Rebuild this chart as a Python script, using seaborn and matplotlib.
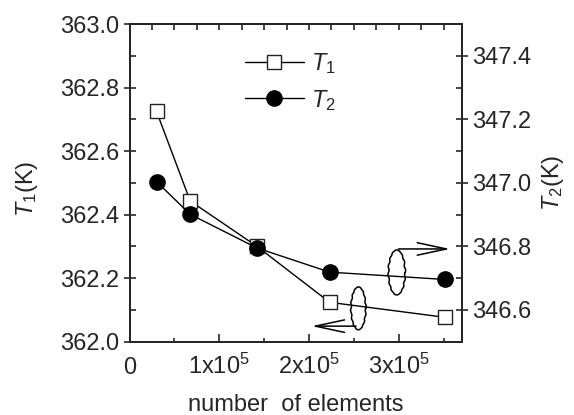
import numpy as np
import matplotlib
matplotlib.use('Agg')
import matplotlib.pyplot as plt
import seaborn as sns
from matplotlib.ticker import FuncFormatter, MultipleLocator

# ---- data ----
n_elements = [3.0e4, 6.75e4, 1.42e5, 2.23e5, 3.51e5]
t1_values = [362.725, 362.443, 362.300, 362.124, 362.077]
t2_values = [347.004, 346.901, 346.795, 346.719, 346.696]
series_labels = [r'$\mathit{T}_1$', r'$\mathit{T}_2$']
x_label = 'number  of elements'
y1_label = r'$\mathit{T}_1$(K)'
y2_label = r'$\mathit{T}_2$(K)'

sns.set_style('ticks')
plt.rcParams['font.family'] = ['Liberation Sans', 'DejaVu Sans']
plt.rcParams['mathtext.fontset'] = 'custom'
plt.rcParams['mathtext.rm'] = 'Liberation Sans'
plt.rcParams['mathtext.it'] = 'Liberation Sans:italic'
plt.rcParams['mathtext.default'] = 'regular'
FS = 17

fig = plt.figure(figsize=(5.74, 4.15), dpi=100)
ax = fig.add_axes([0.2258, 0.1766, 0.5791, 0.7655])
ax2 = ax.twinx()

line_kw = dict(color='black', linewidth=1.0, markeredgewidth=1.0, errorbar=None, legend=False)
sns.lineplot(x=n_elements, y=t1_values, ax=ax, marker='s', markersize=9.5,
             markerfacecolor='white', markeredgecolor='#222222', label=series_labels[0], **line_kw)
sns.lineplot(x=n_elements, y=t2_values, ax=ax2, marker='o', markersize=11,
             markerfacecolor='black', markeredgecolor='black', label=series_labels[1], **line_kw)

ax.set_xlim(0, 3.705e5)
ax.set_ylim(362.0, 363.0)
ax2.set_ylim(346.5, 347.5)

ax.xaxis.set_major_locator(MultipleLocator(1e5))
ax.xaxis.set_minor_locator(MultipleLocator(0.5e5))
ax.yaxis.set_major_locator(MultipleLocator(0.2))
ax.yaxis.set_minor_locator(MultipleLocator(0.1))
ax2.yaxis.set_major_locator(MultipleLocator(0.2))
ax2.yaxis.set_minor_locator(MultipleLocator(0.1))

def fmt_x(v, pos):
    if abs(v) < 1:
        return '0'
    return '%dx10$^5$' % round(v / 1e5)

ax.xaxis.set_major_formatter(FuncFormatter(fmt_x))
ax.yaxis.set_major_formatter(FuncFormatter(lambda v, p: '%.1f' % v))
ax2.yaxis.set_major_formatter(FuncFormatter(lambda v, p: '%.1f' % v))

ax.tick_params(axis='x', which='major', direction='in', length=6, width=1.2, labelsize=FS, pad=23)
ax.tick_params(axis='x', which='minor', direction='in', length=3, width=1.2)
ax.tick_params(axis='y', which='major', direction='inout', length=9, width=1.2, labelsize=FS, pad=3)
ax.tick_params(axis='y', which='minor', direction='in', length=4, width=1.2)
ax2.tick_params(axis='y', which='major', direction='inout', length=9, width=1.2, labelsize=FS, pad=3)
ax2.tick_params(axis='y', which='minor', direction='in', length=4, width=1.2)
for t in ax.get_xticklabels():
    t.set_va('baseline')

# top ticks every 0.25e5
top = ax.secondary_xaxis('top')
top.set_xticks(np.arange(0, 3.71e5, 0.25e5))
top.tick_params(direction='in', length=4, width=1.2, labeltop=False)

for a in (ax, ax2):
    for s in a.spines.values():
        s.set_linewidth(1.4)
top.spines['top'].set_linewidth(1.4)

ax.set_xlabel(x_label, fontsize=FS)
ax.xaxis.set_label_coords(0.5, -0.165)
ax.set_ylabel(y1_label, fontsize=FS)
ax.yaxis.set_label_coords(-0.27, 0.48)
ax2.set_ylabel(y2_label, fontsize=FS)
ax2.yaxis.set_label_coords(1.235, 0.5)

# legend
handles = [ax.lines[0], ax2.lines[0]]
ax.legend(handles, series_labels, loc='upper left', bbox_to_anchor=(0.347, 0.915),
          frameon=False, fontsize=FS, handlelength=2.5, handletextpad=0.3,
          labelspacing=0.5, borderpad=0, borderaxespad=0)

# wavy ellipses with arrows pointing to their axes
def wavy_ellipse(cx, cy, w, h):
    t = np.linspace(0, 2 * np.pi, 400)
    r = 1 + 0.07 * np.sin(16 * t)
    ax.plot(cx + 0.5 * w * np.cos(t) * r, cy + 0.5 * h * np.sin(t), color='black', lw=1.1,
            zorder=5)

arrow_kw = dict(arrowstyle='->,head_length=1.4,head_width=0.3', lw=1.1, color='black',
                mutation_scale=15, shrinkA=0, shrinkB=0)
wavy_ellipse(2.978e5, 362.218, 0.186e5, 0.1416)
ax.annotate('', xy=(3.572e5, 362.292), xytext=(2.996e5, 362.292), arrowprops=arrow_kw)
wavy_ellipse(2.550e5, 362.105, 0.164e5, 0.135)
ax.annotate('', xy=(2.03e5, 362.049), xytext=(2.524e5, 362.049), arrowprops=arrow_kw)

fig.savefig('out.png', dpi=100)
